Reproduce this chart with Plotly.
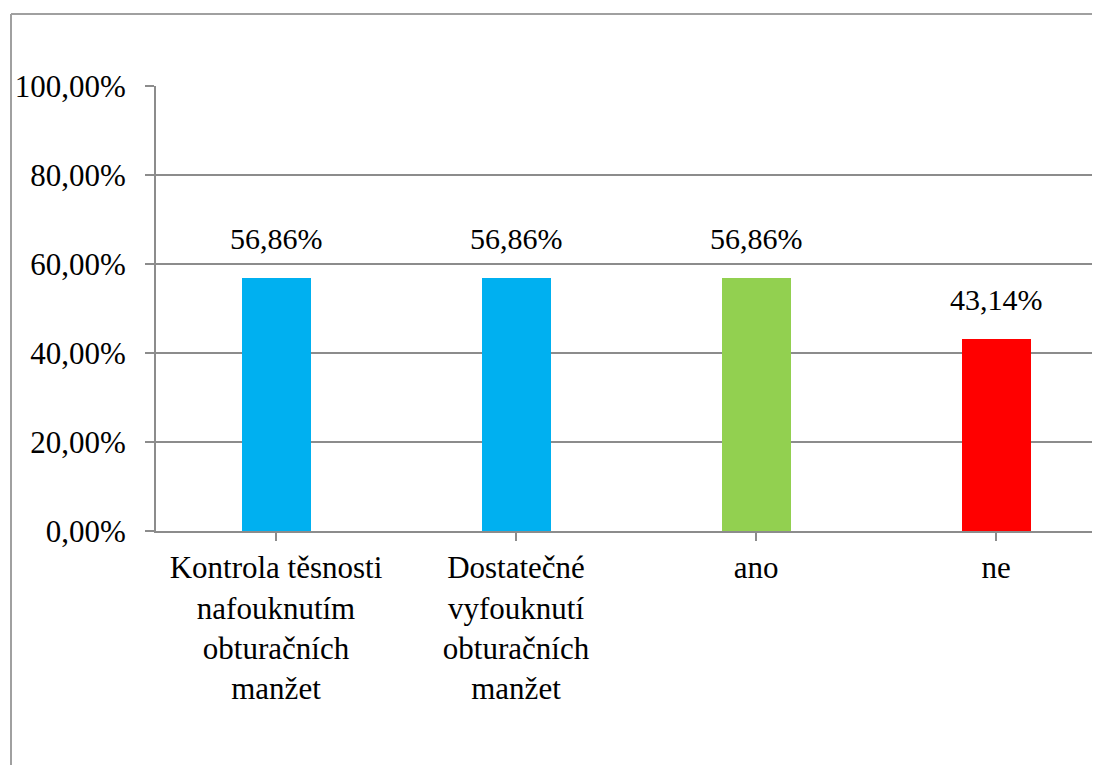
import plotly.graph_objects as go

categories = ["Kontrola těsnosti<br>nafouknutím<br>obturačních<br>manžet",
              "Dostatečné<br>vyfouknutí<br>obturačních<br>manžet",
              "ano", "ne"]
values = [0.5686, 0.5686, 0.5686, 0.4314]
labels = ["56,86%", "56,86%", "56,86%", "43,14%"]
colors = ["#00B0F0", "#00B0F0", "#92D050", "#FF0000"]
yticks = [0, 0.2, 0.4, 0.6, 0.8, 1.0]

FONT = "Liberation Serif"
GRAY = "#8C8C8C"
BORDER = "#A0A0A0"

fig = go.Figure()
fig.add_trace(go.Bar(x=list(range(len(categories))), y=values, marker_color=colors,
                     marker_line_width=0, width=0.2875, showlegend=False))

for i, (v, t) in enumerate(zip(values, labels)):
    fig.add_annotation(x=i, y=v, text=t, showarrow=False, yanchor="bottom",
                       yshift=21, font=dict(family=FONT, size=30, color="black"))

# outer chart border (only top and left edges are visible in the frame)
fig.add_shape(type="line", xref="paper", yref="paper", x0=-0.1536, x1=1.2,
              y0=1.1618, y1=1.1618, line=dict(color=BORDER, width=2), layer="below")
fig.add_shape(type="line", xref="paper", yref="paper", x0=-0.1536, x1=-0.1536,
              y0=-0.8, y1=1.1618, line=dict(color=BORDER, width=2), layer="below")

fig.update_layout(
    width=1092, height=757,
    margin=dict(l=148, r=0, t=78, b=234),
    plot_bgcolor="white", paper_bgcolor="white",
    separators=", ",
    font=dict(family=FONT, size=31, color="black"),
    bargap=0,
)
fig.update_xaxes(
    tickmode="array", tickvals=list(range(len(categories))), ticktext=categories,
    range=[-0.5, 3.5 - 16 / 240],
    showline=True, linecolor=GRAY, linewidth=2,
    ticks="outside", tickson="boundaries", ticklen=8, tickcolor=GRAY, tickwidth=2,
    showgrid=False, zeroline=False, tickangle=0,
    tickfont=dict(family=FONT, size=31, color="black"),
)
fig.update_yaxes(
    range=[0, 1], tickvals=yticks, tickformat=".2%",
    showline=True, linecolor=GRAY, linewidth=2,
    ticks="outside", ticklen=9, tickcolor=GRAY, tickwidth=2,
    showgrid=True, gridcolor=GRAY, gridwidth=2, zeroline=False,
    ticklabelstandoff=13,
    tickfont=dict(family=FONT, size=31, color="black"),
)
fig.write_html("out.html")
